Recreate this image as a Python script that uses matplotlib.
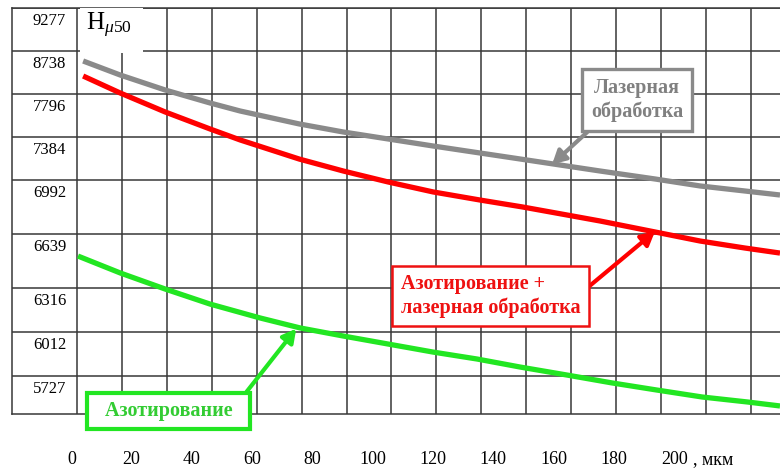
import numpy as np
import matplotlib
matplotlib.use("Agg")
import matplotlib.pyplot as plt
from matplotlib.patches import Rectangle
from matplotlib.ticker import FixedLocator

plt.rcParams['font.family'] = ['Liberation Serif', 'DejaVu Serif']
plt.rcParams['mathtext.fontset'] = 'custom'
plt.rcParams['mathtext.rm'] = 'Liberation Serif'
plt.rcParams['mathtext.it'] = 'Liberation Serif:italic'

# depth, мкм
x_ticks = [0, 20, 40, 60, 80, 100, 120, 140, 160, 180, 200]
# hardness levels printed on the left
h_ticks = [9277, 8738, 7796, 7384, 6992, 6639, 6316, 6012, 5727]

# Лазерная обработка
laser_x = [3.9, 16.2, 31.1, 46.0, 56.0, 75.6, 90.2, 105.1, 120.0, 135.6, 149.0, 175.4, 193.7, 208.6, 223.5, 235.1]
laser_h = [8519, 8212, 7884, 7710, 7633, 7509, 7432, 7366, 7302, 7238, 7183, 7074, 7001, 6953, 6920, 6894]

# Азотирование + лазерная обработка
both_x = [3.9, 16.2, 31.1, 46.0, 56.0, 75.6, 90.2, 105.1, 120.0, 135.6, 149.6, 164.5, 175.4, 193.7, 208.6, 223.5, 235.1]
both_h = [8190, 7818, 7624, 7461, 7357, 7183, 7074, 6979, 6914, 6861, 6816, 6763, 6724, 6652, 6597, 6555, 6525]

# Азотирование
nitr_x = [2.2, 16.2, 31.1, 46.0, 62.6, 75.9, 90.2, 105.1, 120.0, 134.6, 148.9, 164.5, 179.4, 194.3, 209.3, 224.2, 235.1]
nitr_h = [6507, 6406, 6309, 6205, 6109, 6040, 5986, 5934, 5882, 5837, 5785, 5733, 5682, 5636, 5591, 5559, 5533]

# the rows of the original grid are not evenly spaced
scale_vals = [5481, 5727, 6012, 6316, 6639, 6992, 7384, 7796, 8738, 9277]
scale_pos = [0, 38, 82, 126, 180, 234, 277, 320, 363, 406]


def fwd(v):
    return np.interp(v, scale_vals, scale_pos)


def inv(p):
    return np.interp(p, scale_pos, scale_vals)


fig = plt.figure(figsize=(7.8, 4.72), dpi=100)
ax = fig.add_axes([12 / 780, 1 - 414 / 472, 768 / 780, 406 / 472])
ax.set_yscale('function', functions=(fwd, inv))
ax.set_xlim(-19.7, 235.1)
ax.set_ylim(5481, 9277)

grid_col = '#383838'
ax.yaxis.set_major_locator(FixedLocator(h_ticks))
ax.yaxis.set_minor_locator(FixedLocator([]))
ax.set_yticklabels([])
ax.set_xticks(x_ticks)
ax.set_xticklabels([str(t) for t in x_ticks], fontsize=13)
ax.set_xticks(np.arange(1.9, 235, 14.9), minor=True)
ax.tick_params(axis='both', which='both', length=0)
ax.tick_params(axis='x', pad=27)
ax.grid(False, which='major', axis='x')
ax.grid(True, which='minor', axis='x', color=grid_col, lw=1.1)
ax.grid(True, which='major', axis='y', color=grid_col, lw=1.1)
ax.set_axisbelow(True)
for side in ['left', 'top', 'bottom']:
    ax.spines[side].set_color(grid_col)
    ax.spines[side].set_linewidth(1.1)
ax.spines['right'].set_visible(False)

for v in h_ticks:
    ax.annotate(str(v), xy=(0.0705, v), xycoords=('axes fraction', 'data'),
                xytext=(0, -3.5), textcoords='offset points',
                ha='right', va='top', fontsize=12)

ax.annotate(', мкм', xy=(206.3, 0), xycoords=('data', 'axes fraction'),
            xytext=(0, -27), textcoords='offset points',
            ha='left', va='top', fontsize=13, annotation_clip=False)

# white patch under the axis title
ax.add_patch(Rectangle((2.8, 8700), 21.0, 700, facecolor='white',
                       edgecolor='none', zorder=3, clip_on=False))
ax.text(0.096, 0.946, r'$\mathrm{H}_{\mathit{\mu 50}}$', transform=ax.transAxes,
        fontsize=18, va='baseline', ha='left', zorder=4)

gray = '#8a8a8a'
red = '#ff0000'
green = '#22e622'
for xs, hs, c in [(laser_x, laser_h, gray), (both_x, both_h, red), (nitr_x, nitr_h, green)]:
    ax.plot(xs, hs, color=c, lw=3.8, zorder=4,
            solid_capstyle='butt', solid_joinstyle='round')

ax.annotate('Лазерная\nобработка', xy=(159.5, 7135), xytext=(187.7, 7738),
            fontsize=14.5, fontweight='bold', color='#808080',
            ha='center', va='center', zorder=5,
            bbox=dict(boxstyle='square,pad=0.45', fc='white', ec='#8a8a8a', lw=2.4),
            arrowprops=dict(arrowstyle='-|>,head_length=0.55,head_width=0.3',
                            color='#8a8a8a', lw=3, relpos=(0.08, 0.0),
                            shrinkA=0, shrinkB=0))

ax.annotate('Азотирование +\nлазерная обработка', xy=(193.6, 6655), xytext=(139, 6261),
            fontsize=14.5, fontweight='bold', color='#ee1111',
            ha='center', va='center', multialignment='left', zorder=5,
            bbox=dict(boxstyle='square,pad=0.42', fc='white', ec='#ee1111', lw=1.8),
            arrowprops=dict(arrowstyle='-|>,head_length=0.55,head_width=0.3',
                            color=red, lw=3, relpos=(1.0, 0.55),
                            shrinkA=0, shrinkB=0))

ax.annotate('  Азотирование  ', xy=(74.6, 6035), xytext=(32.2, 5500),
            fontsize=14.5, fontweight='bold', color='#33cc33',
            ha='center', va='center', zorder=5, annotation_clip=False,
            bbox=dict(boxstyle='square,pad=0.38', fc='white', ec=green, lw=3),
            arrowprops=dict(arrowstyle='-|>,head_length=0.55,head_width=0.3',
                            color=green, lw=3, relpos=(0.98, 1.0),
                            shrinkA=0, shrinkB=0))

fig.savefig('out.png', dpi=100)
